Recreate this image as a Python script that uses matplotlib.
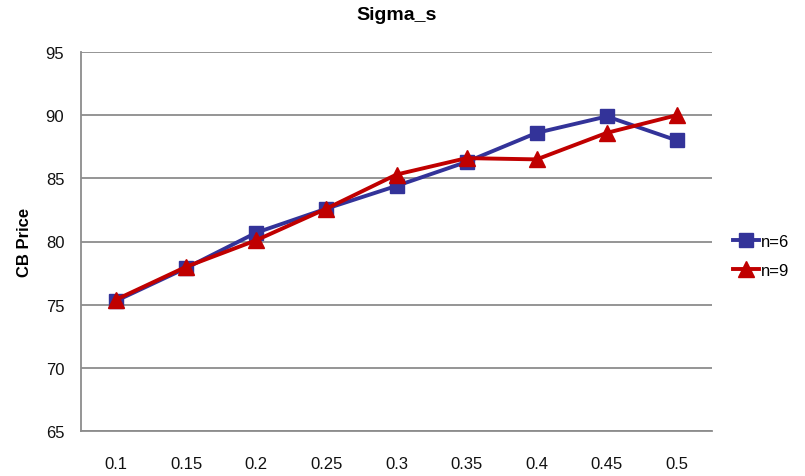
import matplotlib
matplotlib.use("Agg")
import matplotlib.pyplot as plt

categories = ["0.1", "0.15", "0.2", "0.25", "0.3", "0.35", "0.4", "0.45", "0.5"]
n6 = [75.3, 77.9, 80.7, 82.6, 84.4, 86.3, 88.6, 89.9, 88.0]
n9 = [75.4, 78.0, 80.1, 82.6, 85.3, 86.6, 86.5, 88.6, 90.0]
yticks = [65, 70, 75, 80, 85, 90, 95]

plt.rcParams['font.family'] = ['Liberation Sans', 'DejaVu Sans']

fig = plt.figure(figsize=(8.05, 4.77), dpi=100)
ax = fig.add_axes([81/805, 1-432/477, (712-81)/805, (432-53)/477])

x = list(range(len(categories)))
ax.plot(x, n6, color='#333399', lw=2.8, marker='s', markersize=10, label='n=6', zorder=3)
ax.plot(x, n9, color='#C00000', lw=2.8, marker='^', markersize=11, label='n=9', zorder=4)

ax.set_xlim(-0.5, len(categories) - 0.5)
ax.set_ylim(65, 95)
ax.set_yticks(yticks)
ax.set_xticks(x)
ax.set_xticklabels(categories)
ax.grid(axis='y', color='#8c8c8c', lw=1.3)
ax.set_axisbelow(True)
for s in ['top', 'right']:
    ax.spines[s].set_visible(False)
for s in ['left', 'bottom']:
    ax.spines[s].set_color('#8c8c8c')
    ax.spines[s].set_linewidth(1.3)
ax.tick_params(axis='both', length=0, labelsize=12, labelcolor='#111111')
ax.tick_params(axis='x', pad=18)
ax.tick_params(axis='y', pad=12)

ax.set_ylabel('CB Price', fontsize=12, fontweight='bold', labelpad=10)
fig.suptitle('Sigma_s', x=(81+712)/2/805, y=0.985, fontsize=14, fontweight='bold')

ax.legend(loc='center left', bbox_to_anchor=(1.033, 0.462), frameon=False, fontsize=12,
          handlelength=1.6, handletextpad=0.1, labelspacing=0.85,
          borderaxespad=0, borderpad=0)

fig.savefig('out.png', dpi=100)
